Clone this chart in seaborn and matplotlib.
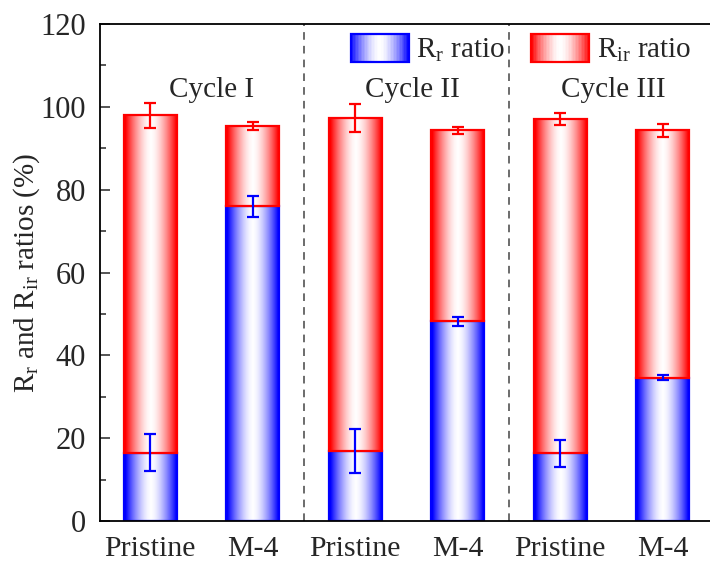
import numpy as np
import pandas as pd
import matplotlib
matplotlib.use("Agg")
import matplotlib.pyplot as plt
import seaborn as sns
from matplotlib.patches import Rectangle
from matplotlib.legend_handler import HandlerBase
from matplotlib.ticker import MultipleLocator

# ---- data ----
positions = ["Pristine I", "M-4 I", "Pristine II", "M-4 II", "Pristine III", "M-4 III"]
tick_labels = ["Pristine", "M-4", "Pristine", "M-4", "Pristine", "M-4"]
rr_ratio = [16.5, 76.0, 16.8, 48.2, 16.3, 34.6]
rr_err = [4.5, 2.5, 5.3, 1.0, 3.3, 0.6]
total_ratio = [98.0, 95.3, 97.3, 94.3, 97.1, 94.3]
total_err = [3.0, 1.0, 3.3, 0.8, 1.5, 1.6]
cycle_labels = ["Cycle I", "Cycle II", "Cycle III"]

rir_ratio = [t - r for t, r in zip(total_ratio, rr_ratio)]

sns.set_theme(style="ticks")
plt.rcParams["font.family"] = ["Liberation Serif", "DejaVu Serif"]
plt.rcParams["mathtext.fontset"] = "custom"
plt.rcParams["mathtext.rm"] = "Liberation Serif"
plt.rcParams["mathtext.it"] = "Liberation Serif:italic"

BLUE = (0.0, 0.0, 1.0)
RED = (1.0, 0.0, 0.0)
GAMMA = 1.6


def gradient_rgba(base, n=17):
    u = np.linspace(0, 1, n)
    a = np.abs(2 * u - 1) ** GAMMA
    img = np.ones((1, n, 3))
    for k in range(3):
        img[0, :, k] = 1 - a * (1 - base[k])
    return img


fig = plt.figure(figsize=(7.10, 5.63), dpi=100)
ax = fig.add_axes([100 / 710, 1 - 521 / 563, 614 / 710, (521 - 24) / 563])

df = pd.DataFrame({"pos": positions, "rr": rr_ratio, "rir": rir_ratio})

sns.barplot(data=df, x="pos", y="rr", order=positions, ax=ax, width=0.52,
            color=BLUE, facecolor="none", edgecolor=BLUE, linewidth=1.6,
            errorbar=None, zorder=2)
n_blue = len(ax.patches)
sns.barplot(data=df, x="pos", y="rir", order=positions, ax=ax, width=0.52,
            bottom=np.array(rr_ratio), color=RED, facecolor="none", edgecolor=RED,
            linewidth=1.6, errorbar=None, zorder=3)

for i, p in enumerate(ax.patches):
    base = BLUE if i < n_blue else RED
    z = 1.9 if i < n_blue else 2.9
    x0, y0 = p.get_x(), p.get_y()
    w, h = p.get_width(), p.get_height()
    im = ax.imshow(gradient_rgba(base), extent=[x0, x0 + w, y0, y0 + h],
                   aspect="auto", zorder=z, interpolation="bilinear")
    im.set_clip_path(p)

xs = np.arange(len(positions))
ax.errorbar(xs, total_ratio, yerr=total_err, fmt="none", ecolor=RED,
            elinewidth=1.6, capsize=4.3, capthick=1.6, zorder=5)
ax.errorbar(xs, rr_ratio, yerr=rr_err, fmt="none", ecolor=BLUE,
            elinewidth=1.6, capsize=4.3, capthick=1.6, zorder=6)

for xv in [1.5, 3.5]:
    ax.axvline(xv, color="#444444", linestyle=(0, (5, 4)), linewidth=1.1, zorder=1)

cycle_x = [0.6, 2.56, 4.52]
for cx, lab in zip(cycle_x, cycle_labels):
    ax.text(cx, 104.0, lab, ha="center", va="center", fontsize=21)

ax.set_xlim(-0.49, 5.5)
ax.set_ylim(0, 120)
ax.yaxis.set_major_locator(MultipleLocator(20))
ax.yaxis.set_minor_locator(MultipleLocator(10))
ax.set_xticks(xs)
ax.set_xticklabels(tick_labels, fontsize=21.5)
ax.tick_params(axis="y", which="major", direction="in", length=7, width=1.1,
               labelsize=22, pad=10)
ax.tick_params(axis="y", which="minor", direction="in", length=4, width=1.1)
ax.tick_params(axis="x", length=0, pad=11)
ax.tick_params(axis="y", right=False)
ax.set_xlabel("")
ax.set_ylabel(r"R$_\mathrm{r}$ and R$_\mathrm{ir}$ ratios (%)", fontsize=21, labelpad=-1)
for s in ax.spines.values():
    s.set_linewidth(1.3)
    s.set_color("black")


class GradHandler(HandlerBase):
    def __init__(self, base):
        super().__init__()
        self.base = base

    def create_artists(self, legend, orig_handle, xdescent, ydescent, width,
                       height, fontsize, trans):
        arts = []
        n = 40
        u = (np.arange(n) + 0.5) / n
        a = np.abs(2 * u - 1) ** GAMMA
        for k in range(n):
            c = tuple(1 - a[k] * (1 - b) for b in self.base)
            r = Rectangle((-xdescent + k * width / n, -ydescent), width / n * 1.05,
                          height, facecolor=c, edgecolor="none", transform=trans)
            arts.append(r)
        arts.append(Rectangle((-xdescent, -ydescent), width, height,
                              facecolor="none", edgecolor=self.base, linewidth=1.6,
                              transform=trans))
        return arts


h_blue = Rectangle((0, 0), 1, 1)
h_red = Rectangle((0, 0), 1, 1)
leg = ax.legend([h_blue, h_red], [r"R$_\mathrm{r}$ ratio", r"R$_\mathrm{ir}$ ratio"],
                handler_map={h_blue: GradHandler(BLUE), h_red: GradHandler(RED)},
                ncol=2, frameon=False, fontsize=21, loc="upper left",
                bbox_to_anchor=(233 / 614, 1.015), handlelength=2.0, handleheight=1.1,
                columnspacing=0.9, handletextpad=0.25, borderaxespad=0.2)

fig.savefig("out.png", dpi=100)
